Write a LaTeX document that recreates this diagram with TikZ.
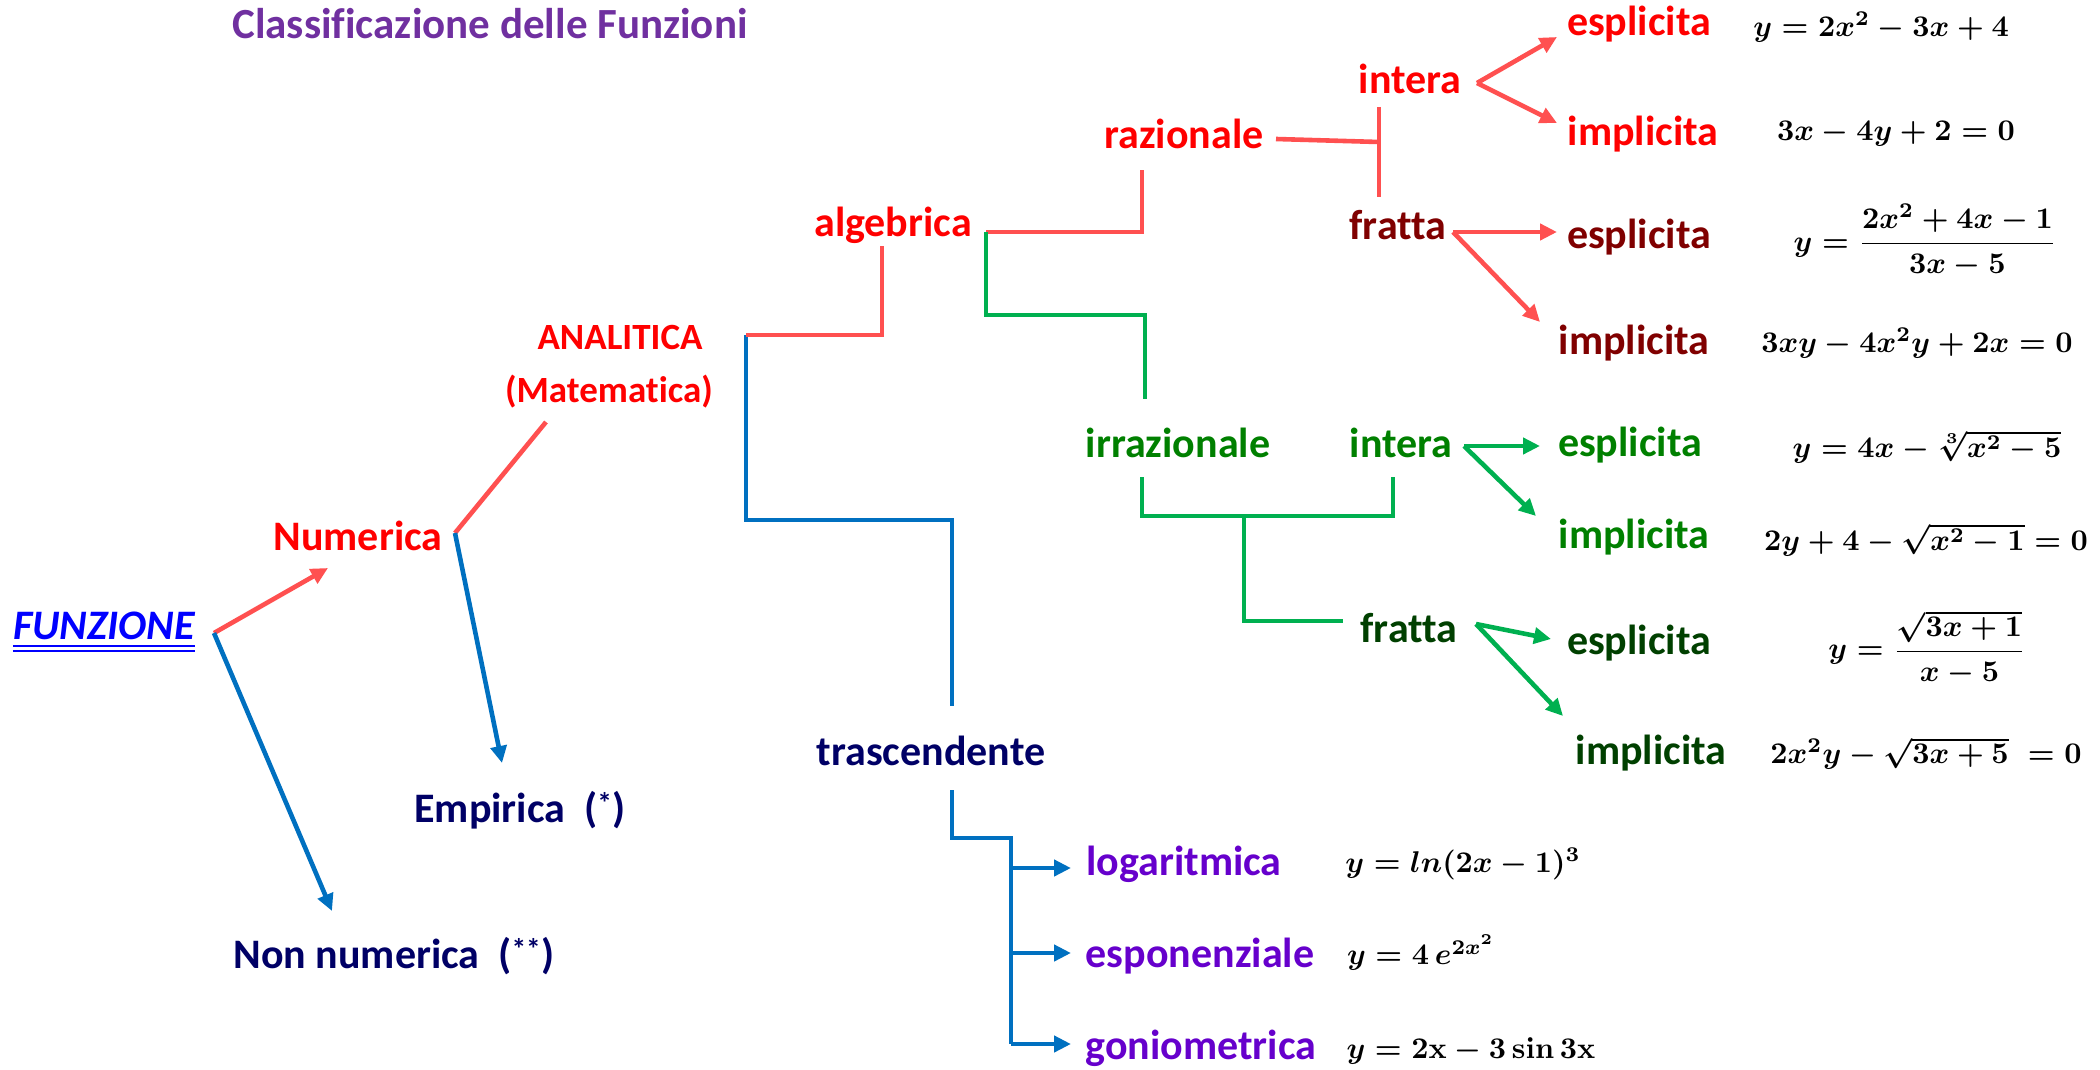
\documentclass[tikz,border=0pt]{standalone}
\usepackage{amsmath}
\usepackage{graphicx}
\usepackage[no-math]{fontspec}
\setmainfont{Carlito}[RawFeature={-liga;-clig;-dlig;-calt;-hlig}]
\usetikzlibrary{arrows.meta,calc}
\definecolor{lred}{RGB}{255,80,80}
\definecolor{tred}{RGB}{255,0,0}
\definecolor{dred}{RGB}{128,0,0}
\definecolor{tgreen}{RGB}{0,128,0}
\definecolor{dgreen}{RGB}{0,64,0}
\definecolor{lgreen}{RGB}{0,176,80}
\definecolor{lblue}{RGB}{0,112,192}
\definecolor{navy}{RGB}{0,0,102}
\definecolor{vio}{RGB}{102,0,204}
\definecolor{titlep}{RGB}{112,48,160}
\definecolor{fblue}{RGB}{0,0,255}
\newcommand{\beq}[1]{\scalebox{3}{\boldmath$#1$}}
\begin{document}
\begin{tikzpicture}[x=1pt,y=-1pt,
  lbl/.style={font=\fontsize{42}{46}\selectfont\bfseries, inner sep=0pt, anchor=center},
  sml/.style={font=\fontsize{37}{40}\selectfont\bfseries, inner sep=0pt, anchor=center},
  eq/.style={font=\fontsize{10}{12}\selectfont, inner sep=0pt, anchor=center, text=black},
  con/.style={line width=4.6pt},
  arr/.style={con, -{Triangle[length=17pt,width=16pt]}}]
\useasboundingbox (0,0) rectangle (2100,1070);
% title
\node[lbl, text=titlep, font=\fontsize{43}{46}\selectfont\bfseries] (title) at (490,24) {Classificazione delle Funzioni};
% left part
\node[lbl, text=fblue, font=\fontsize{42}{46}\selectfont\bfseries\itshape] (fz) at (104,626) {FUNZIONE};
\draw[fblue, line width=1.6pt] ($(fz.south west)+(0,6)$) -- ($(fz.south east)+(0,6)$);
\draw[fblue, line width=1.6pt] ($(fz.south west)+(0,11)$) -- ($(fz.south east)+(0,11)$);
\node[lbl, text=tred] (num) at (358,536) {Numerica};
\node[sml, text=tred] (anal) at (620,337) {ANALITICA};
\node[sml, text=tred] (mat) at (609,392) {(Matematica)};
\node[lbl, text=navy] (emp) at (520,810) {Empirica~~(\textsuperscript{*})};
\node[lbl, text=navy] (nonn) at (394,956) {Non numerica~~(\textsuperscript{**})};
% algebraic branch
\node[lbl, text=tred] (alg) at (893,225) {algebrica};
\node[lbl, text=tred] (raz) at (1184,134) {razionale};
\node[lbl, text=tred] (rint) at (1410,79) {intera};
\node[lbl, text=dred] (rfr) at (1398,225) {fratta};
\node[lbl, text=tred] (re1) at (1639,24) {esplicita};
\node[lbl, text=tred] (ri1) at (1643,134) {implicita};
\node[lbl, text=dred] (re2) at (1639,237) {esplicita};
\node[lbl, text=dred] (ri2) at (1634,343) {implicita};
\node[eq] (q1) at (1881,27) {\beq{y=2x^2-3x+4}};
\node[eq] (q2) at (1896,134) {\beq{3x-4y+2=0}};
\node[eq] (q3) at (1925,241) {\beq{y=\dfrac{2x^2+4x-1}{3x-5}}};
\node[eq] (q4) at (1917,343) {\beq{3xy-4x^2y+2x=0}};
\node[lbl, text=tgreen] (irr) at (1178,443) {irrazionale};
\node[lbl, text=tgreen] (gint) at (1401,443) {intera};
\node[lbl, text=dgreen] (gfr) at (1409,628) {fratta};
\node[lbl, text=tgreen] (ge1) at (1630,445) {esplicita};
\node[lbl, text=tgreen] (gi1) at (1634,537) {implicita};
\node[lbl, text=dgreen] (ge2) at (1639,643) {esplicita};
\node[lbl, text=dgreen] (gi2) at (1651,753) {implicita};
\node[eq] (p1) at (1927,447) {\beq{y=4x-\sqrt[3]{x^2-5}}};
\node[eq] (p2) at (1926,540) {\beq{2y+4-\sqrt{x^2-1}=0}};
\node[eq] (p3) at (1927,648) {\beq{y=\dfrac{\sqrt{3x+1}}{x-5}}};
\node[eq] (p4) at (1926,753) {\beq{2x^2y-\sqrt{3x+5}\;=0}};
% transcendent branch
\node[lbl, text=navy] (tra) at (931,751) {trascendente};
\node[lbl, text=vio] (log) at (1184,864) {logaritmica};
\node[lbl, text=vio] (espo) at (1200,956) {esponenziale};
\node[lbl, text=vio] (gon) at (1201,1048) {goniometrica};
\node[eq] (t1) at (1463,864) {\beq{y=ln(2x-1)^3}};
\node[eq] (t2) at (1421,953) {\beq{y=4\,e^{2x^2}}};
\node[eq] (t3) at (1471,1051) {\beq{y=2\mathrm{x}-3\sin 3\mathrm{x}}};
% junction coordinates
\coordinate (fzO) at (214,633);
\coordinate (numI) at (328,568);
\coordinate (nonI) at (332,911);
\coordinate (numO) at (455,533);
\coordinate (analI) at (546,422);
\coordinate (empI) at (502,763);
\coordinate (analO) at (746,335);
\coordinate (algI) at (882,246);
\coordinate (traI) at (952,706);
\coordinate (algO) at (986,232);
\coordinate (razI) at (1142,170);
\coordinate (irrI) at (1145,399);
\coordinate (razO) at (1276,139);
\coordinate (razJ) at (1379,142);
\coordinate (rintI) at (1379,107);
\coordinate (rfrI) at (1379,197);
\coordinate (rintO) at (1477,83);
\coordinate (rfrO) at (1453,232);
\coordinate (irrO) at (1142,477);
\coordinate (gintI) at (1393,477);
\coordinate (gJ) at (1244,516);
\coordinate (gfrI) at (1343,621);
\coordinate (gintO) at (1464,446);
\coordinate (gfrO) at (1476,624);
\coordinate (traO) at (952,790);
\coordinate (traJ) at (1011,838);
% connectors
\draw[arr, lred] (fzO) -- (numI);
\draw[arr, lblue] (fzO) -- (nonI);
\draw[con, lred] (numO) -- (analI);
\draw[arr, lblue] (numO) -- (empI);
\draw[con, lblue] (analO) -- (746,520) -| (traI);
\draw[con, lred] (analO) -| (algI);
\draw[con, lred] (algO) -| (razI);
\draw[con, lgreen] (algO) |- (1145,315) -- (irrI);
\draw[con, lred] (razO) -- (razJ);
\draw[con, lred] (rintI) -- (rfrI);
\draw[arr, lred] (rintO) -- (1557,37);
\draw[arr, lred] (rintO) -- (1557,123);
\draw[arr, lred] (rfrO) -- (1557,232);
\draw[arr, lred] (rfrO) -- (1540,322);
\draw[con, lgreen] (irrO) |- (1393,516) -- (gintI);
\draw[con, lgreen] (gJ) |- (gfrI);
\draw[arr, lgreen] (gintO) -- (1540,446);
\draw[arr, lgreen] (gintO) -- (1536,516);
\draw[arr, lgreen] (gfrO) -- (1551,639);
\draw[arr, lgreen] (gfrO) -- (1563,716);
\draw[con, lblue] (traO) |- (traJ) -- (1011,1044);
\draw[arr, lblue] (1011,868) -- (1071,868);
\draw[arr, lblue] (1011,953) -- (1071,953);
\draw[arr, lblue] (1011,1044) -- (1071,1044);
\end{tikzpicture}
\end{document}
